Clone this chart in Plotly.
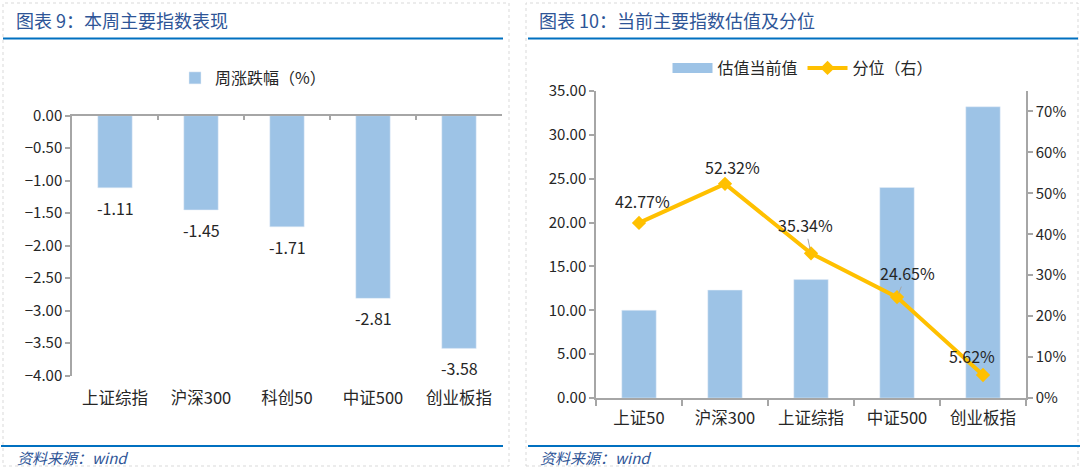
import plotly.graph_objects as go

# ---------------- data ----------------
cats_left = ["上证综指", "沪深300", "科创50", "中证500", "创业板指"]
weekly_change = [-1.11, -1.45, -1.71, -2.81, -3.58]

cats_right = ["上证50", "沪深300", "上证综指", "中证500", "创业板指"]
valuation = [10.0, 12.3, 13.5, 24.0, 33.2]
percentile = [0.4277, 0.5232, 0.3534, 0.2465, 0.0562]

left_title = "图表 9：本周主要指数表现"
right_title = "图表 10：当前主要指数估值及分位"
source_text = "资料来源：wind"

# ---------------- styles ----------------
W, H = 1080, 467
BAR = "#9DC3E6"
GOLD = "#FFC000"
AXIS = "#A6A6A6"
TXT = "#262626"
TITLE_C = "#2E5597"
BLUE_LINE = "#0070C0"
FONT = "Noto Sans CJK SC"


def px(x):
    return x / W


def py(y):
    return 1 - y / H


fig = go.Figure()

# left chart bars
fig.add_trace(go.Bar(
    x=cats_left, y=weekly_change, width=0.4, marker_color=BAR,
    name="周涨跌幅（%）", xaxis="x", yaxis="y", legend="legend",
))
# dummy trace to draw the top (zero) axis line of the left chart
fig.add_trace(go.Scatter(x=[None], y=[None], xaxis="x3", yaxis="y",
                         showlegend=False, hoverinfo="skip"))

# right chart bars + line
fig.add_trace(go.Bar(
    x=cats_right, y=valuation, width=0.4, marker_color=BAR,
    name="估值当前值", xaxis="x2", yaxis="y2", showlegend=False,
))
# legend swatch for the bars (wide rectangle as in the reference)
fig.add_trace(go.Scatter(
    x=[None], y=[None], mode="lines", line=dict(color=BAR, width=10),
    name="估值当前值", xaxis="x2", yaxis="y2", legend="legend2",
    hoverinfo="skip",
))
fig.add_trace(go.Scatter(
    x=cats_right, y=percentile, mode="lines+markers",
    line=dict(color=GOLD, width=4),
    marker=dict(symbol="diamond", size=11, color=GOLD),
    name="分位（右）", xaxis="x2", yaxis="y3", legend="legend2",
))

LBL = dict(size=16, color=TXT)
annotations = []
# left bar labels
for c, v in zip(cats_left, weekly_change):
    annotations.append(dict(
        x=c, y=v, xref="x", yref="y", text=f"{v:.2f}", showarrow=False,
        yanchor="middle", yshift=-20, font=LBL,
    ))

# right line labels (offsets in pixels)
label_offsets = [(3, 22, False), (7, 17, False), (-6, -28, True), (10, -24, True), (-11, 19, False)]
for c, v, (dx, dy, arrow) in zip(cats_right, percentile, label_offsets):
    if arrow:
        annotations.append(dict(
            x=c, y=v, xref="x2", yref="y3", text=f"{v*100:.2f}%",
            showarrow=True, arrowhead=0, arrowwidth=1, arrowcolor="#A6A6A6",
            ax=dx, ay=dy, font=LBL, standoff=4,
        ))
    else:
        annotations.append(dict(
            x=c, y=v, xref="x2", yref="y3", text=f"{v*100:.2f}%",
            showarrow=False, xshift=dx, yshift=dy, font=LBL,
        ))

# titles and sources
annotations += [
    dict(x=px(14), y=py(20), xref="paper", yref="paper", text=left_title,
         showarrow=False, xanchor="left", yanchor="middle",
         font=dict(size=18, color=TITLE_C)),
    dict(x=px(537), y=py(20), xref="paper", yref="paper", text=right_title,
         showarrow=False, xanchor="left", yanchor="middle",
         font=dict(size=18, color=TITLE_C)),
    dict(x=px(15), y=py(457), xref="paper", yref="paper",
         text="<i>" + source_text + "</i>",
         showarrow=False, xanchor="left", yanchor="middle",
         font=dict(size=15, color=TITLE_C)),
    dict(x=px(538), y=py(457), xref="paper", yref="paper",
         text="<i>" + source_text + "</i>",
         showarrow=False, xanchor="left", yanchor="middle",
         font=dict(size=15, color=TITLE_C)),
]

shapes = [
    # panel dotted borders
    dict(type="rect", xref="paper", yref="paper", x0=px(3), x1=px(509), y0=py(466), y1=py(3),
         line=dict(color="#D9D9D9", width=1, dash="dot")),
    dict(type="rect", xref="paper", yref="paper", x0=px(526), x1=px(1078), y0=py(466), y1=py(3),
         line=dict(color="#D9D9D9", width=1, dash="dot")),
    # blue rules
    dict(type="line", xref="paper", yref="paper", x0=px(3), x1=px(503), y0=py(38.5), y1=py(38.5),
         line=dict(color=BLUE_LINE, width=2)),
    dict(type="line", xref="paper", yref="paper", x0=px(528), x1=px(1078), y0=py(38.5), y1=py(38.5),
         line=dict(color=BLUE_LINE, width=2)),
    dict(type="line", xref="paper", yref="paper", x0=px(1), x1=px(503), y0=py(446), y1=py(446),
         line=dict(color=BLUE_LINE, width=2)),
    dict(type="line", xref="paper", yref="paper", x0=px(528), x1=px(1080), y0=py(446), y1=py(446),
         line=dict(color=BLUE_LINE, width=2)),
]

axis_font = dict(size=15, color=TXT, family=FONT)
cat_font = dict(size=16.5, color=TXT, family=FONT)

fig.update_layout(
    width=W, height=H, autosize=False,
    margin=dict(l=0, r=0, t=0, b=0, pad=0, autoexpand=False),
    paper_bgcolor="white", plot_bgcolor="white",
    font=dict(family=FONT, color=TXT),
    showlegend=True,
    annotations=annotations,
    shapes=shapes,
    # ---- left chart ----
    xaxis=dict(domain=[px(72), px(502)], anchor="y", type="category",
               categoryorder="array", categoryarray=cats_left,
               showline=False, ticks="", showgrid=False, zeroline=False,
               tickfont=cat_font, ticklabelstandoff=11, side="bottom"),
    xaxis3=dict(overlaying="x", anchor="y", side="top", range=[-0.5, 4.5],
                showline=True, linecolor=AXIS, linewidth=1.5,
                ticks="inside", ticklen=5, tickcolor=AXIS, tickwidth=1.5,
                tickvals=[0.5, 1.5, 2.5, 3.5, 4.5], showticklabels=False,
                showgrid=False, zeroline=False),
    yaxis=dict(domain=[py(375.7), py(115.7)], anchor="x", range=[-4, 0],
               dtick=0.5, tickformat=".2f", showline=True, linecolor=AXIS,
               linewidth=1.5, ticks="outside", ticklen=5, tickcolor=AXIS,
               tickwidth=1.5, showgrid=False, zeroline=False,
               tickfont=axis_font),
    # ---- right chart ----
    xaxis2=dict(domain=[px(596), px(1026)], anchor="y2", type="category",
                categoryorder="array", categoryarray=cats_right,
                showline=True, linecolor=AXIS, linewidth=1.5,
                ticks="outside", tickson="boundaries", ticklen=6,
                tickcolor=AXIS, tickwidth=1.5, showgrid=False,
                zeroline=False, tickfont=cat_font, ticklabelstandoff=4),
    yaxis2=dict(domain=[py(398), py(91)], anchor="x2", range=[0, 35],
                dtick=5, tickformat=".2f", showline=True, linecolor=AXIS,
                linewidth=1.5, ticks="outside", ticklen=5, tickcolor=AXIS,
                tickwidth=1.5, showgrid=False, zeroline=False,
                tickfont=axis_font),
    yaxis3=dict(overlaying="y2", anchor="x2", side="right", range=[0, 0.75],
                dtick=0.1, tickformat=".0%", showline=True, linecolor=AXIS,
                linewidth=1.5, ticks="outside", ticklen=5, tickcolor=AXIS,
                tickwidth=1.5, showgrid=False, zeroline=False,
                tickfont=axis_font),
    legend=dict(orientation="h", x=px(253), y=py(78), xanchor="center",
                yanchor="middle", font=dict(size=16, color=TXT),
                bgcolor="rgba(0,0,0,0)"),
    legend2=dict(orientation="h", x=px(803), y=py(68), xanchor="center",
                 yanchor="middle", font=dict(size=16, color=TXT),
                 bgcolor="rgba(0,0,0,0)", itemwidth=40),
)

fig.write_html(
    "out.html",
    config={"displayModeBar": False},
    post_script="document.body.style.margin='0';document.body.style.padding='0';",
)
